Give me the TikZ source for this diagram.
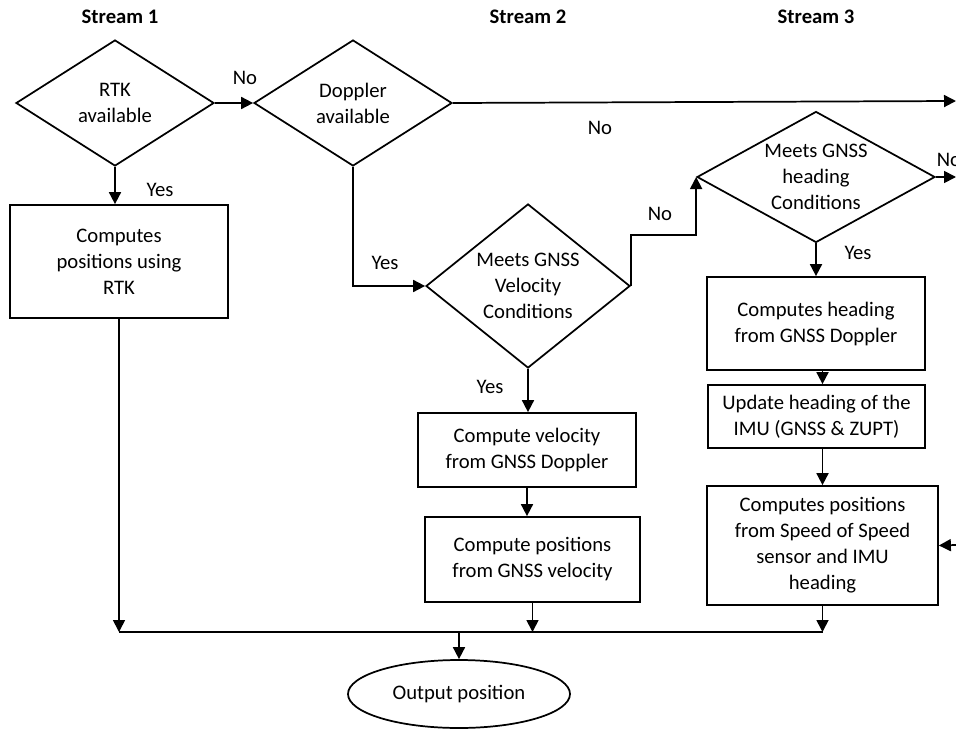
\documentclass[tikz,border=0pt]{standalone}
\usepackage{fontspec}
\setmainfont{Carlito}
\usetikzlibrary{arrows.meta,positioning,shapes.geometric}

\begin{document}
\begin{tikzpicture}[x=0.75pt,y=-0.75pt,font=\fontsize{15.5}{19.5}\selectfont,
  dec/.style={shape=diamond,draw,line width=1.3pt,inner sep=0pt,align=center},
  blk/.style={shape=rectangle,draw,line width=1.3pt,align=center,inner sep=2pt},
  lbl/.style={inner sep=1pt},
  hdr/.style={font=\fontsize{15.5}{18}\selectfont\bfseries},
  arr/.style={-{Triangle[length=9pt,width=9pt]},line width=1.3pt},
  ln/.style={line width=1.3pt}]
\useasboundingbox (0,0) rectangle (956,731);
\clip (0,0) rectangle (956,731);

\node[hdr] (S1) at (120,17) {Stream 1};
\node[hdr] (S2) at (528,17) {Stream 2};
\node[hdr] (S3) at (816,17) {Stream 3};

\node[dec,minimum width=148.5pt,minimum height=94.5pt,shape aspect=1.57] (R) at (115,103) {RTK\\available};
\node[dec,minimum width=148.5pt,minimum height=94.5pt,shape aspect=1.57] (D) at (353,103) {Doppler\\available};
\node[dec,minimum width=153pt,minimum height=123pt,shape aspect=1.24] (V) at (528,286) {Meets GNSS\\Velocity\\Conditions};
\node[dec,minimum width=178.5pt,minimum height=98.25pt,shape aspect=1.82] (Hd) at (816,177) {Meets GNSS\\heading\\Conditions};

\node[blk,minimum width=163.5pt,minimum height=84.75pt] (B1) at (119,261.5) {Computes\\positions using\\RTK};
\node[blk,minimum width=163.5pt,minimum height=55.5pt] (V1) at (527,450) {Compute velocity\\from GNSS Doppler};
\node[blk,minimum width=161.25pt,minimum height=63.75pt] (V2) at (532.5,559.5) {Compute positions\\from GNSS velocity};
\node[blk,minimum width=163.5pt,minimum height=69.75pt] (H1) at (816,323.5) {Computes heading\\from GNSS Doppler};
\node[blk,minimum width=162.75pt,minimum height=47.25pt] (H2) at (816.5,416.5) {Update heading of the\\IMU (GNSS \& ZUPT)};
\node[blk,minimum width=173.25pt,minimum height=89.25pt] (H3) at (822.5,545.5) {Computes positions\\from Speed of Speed\\sensor and IMU\\heading};
\node[shape=ellipse,draw,line width=1.3pt,minimum width=166.5pt,minimum height=51pt] (O) at (459,694) {Output position};

\coordinate (bus) at (0,632);
\coordinate (k) at (0,235);
\coordinate (eD) at (956,101);
\coordinate (eH) at (956,177);
\coordinate (eS) at (956,545);

% stream 1
\draw[arr] (R.east) -- (D.west);
\draw[arr] (R.south) -- (R.south |- B1.north);
\draw[arr] (B1.south) -- (B1.south |- bus);
\node[lbl] (n1) at (245,78) {No};
\node[lbl] (y1) at (160,190) {Yes};

% stream 2
\draw[arr] (D.east) -- (eD);
\draw[arr] (D.south) |- (V.west);
\draw[arr] (V.east) -- (V.east |- k) -| (Hd.west);
\draw[arr] (V.south) -- (V.south |- V1.north);
\draw[arr] (V1.south) -- (V1.south |- V2.north);
\draw[arr] (V2.south) -- (V2.south |- bus);
\node[lbl] (n2) at (600,128) {No};
\node[lbl] (y2) at (385,263) {Yes};
\node[lbl] (n3) at (660,214) {No};
\node[lbl] (y3) at (490,387) {Yes};

% stream 3
\draw[arr] (Hd.east) -- (eH);
\draw[arr] (Hd.south) -- (H1.north);
\draw[arr] (H1.south -| H3.center) -- (H2.north -| H3.center);
\draw[arr] (H2.south -| H3.center) -- (H3.north);
\draw[arr] (eS) -- (H3.east);
\draw[arr] (H3.south) -- (H3.south |- bus);
\node[lbl] (n4) at (949,160) {No};
\node[lbl] (y4) at (858,253) {Yes};

% output
\draw[ln] (B1.south |- bus) -- (H3.south |- bus);
\draw[arr] (O.north |- bus) -- (O.north);
\end{tikzpicture}
\end{document}
